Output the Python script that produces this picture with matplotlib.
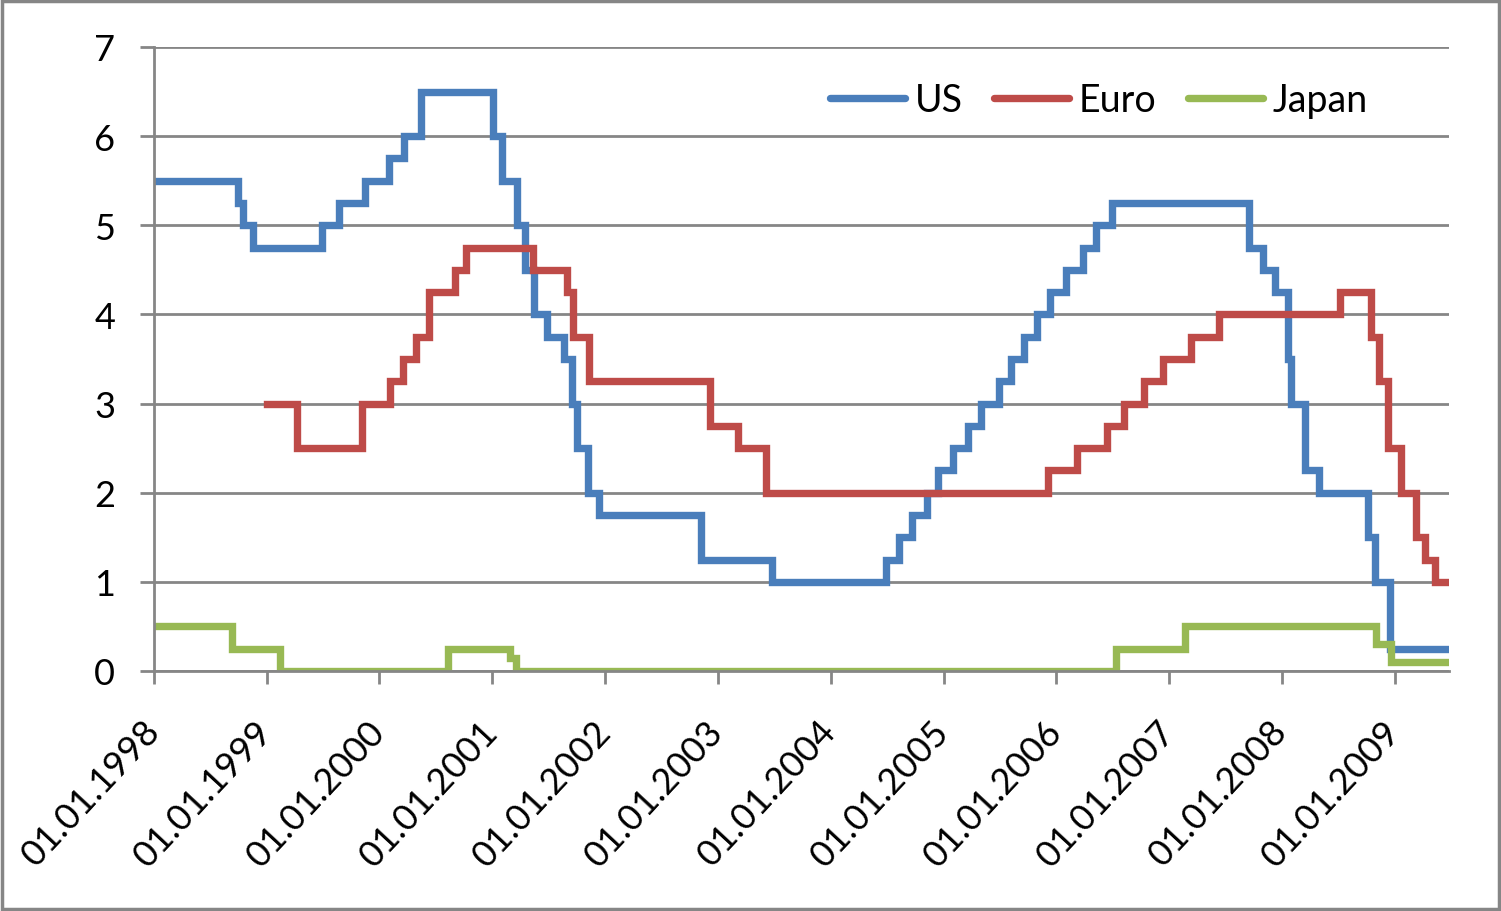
import matplotlib
matplotlib.use("Agg")
import matplotlib.pyplot as plt
from matplotlib.patches import Rectangle
import matplotlib.transforms as mtransforms
import pandas as pd

plt.rcParams['font.family'] = ['Lato', 'DejaVu Sans']

end_date = "2009-06-26"

us_dates = ["1998-01-01", "1998-09-29", "1998-10-15", "1998-11-17", "1999-06-30",
            "1999-08-24", "1999-11-16", "2000-02-02", "2000-03-21", "2000-05-16",
            "2001-01-03", "2001-01-31", "2001-03-20", "2001-04-18", "2001-05-15",
            "2001-06-27", "2001-08-21", "2001-09-17", "2001-10-02", "2001-11-06",
            "2001-12-11", "2002-11-06", "2003-06-25", "2004-06-30", "2004-08-10",
            "2004-09-21", "2004-11-10", "2004-12-14", "2005-02-02", "2005-03-22",
            "2005-05-03", "2005-06-30", "2005-08-09", "2005-09-20", "2005-11-01",
            "2005-12-13", "2006-01-31", "2006-03-28", "2006-05-10", "2006-06-29",
            "2007-09-18", "2007-10-31", "2007-12-11", "2008-01-22", "2008-01-30",
            "2008-03-18", "2008-04-30", "2008-10-08", "2008-10-29", "2008-12-16"]
us_rates = [5.50, 5.25, 5.00, 4.75, 5.00,
            5.25, 5.50, 5.75, 6.00, 6.50,
            6.00, 5.50, 5.00, 4.50, 4.00,
            3.75, 3.50, 3.00, 2.50, 2.00,
            1.75, 1.25, 1.00, 1.25, 1.50,
            1.75, 2.00, 2.25, 2.50, 2.75,
            3.00, 3.25, 3.50, 3.75, 4.00,
            4.25, 4.50, 4.75, 5.00, 5.25,
            4.75, 4.50, 4.25, 3.50, 3.00,
            2.25, 2.00, 1.50, 1.00, 0.25]

euro_dates = ["1999-01-01", "1999-04-09", "1999-11-05", "2000-02-04", "2000-03-17",
              "2000-04-28", "2000-06-09", "2000-09-01", "2000-10-06", "2001-05-11",
              "2001-08-31", "2001-09-18", "2001-11-09", "2002-12-06", "2003-03-07",
              "2003-06-06", "2005-12-06", "2006-03-08", "2006-06-15", "2006-08-09",
              "2006-10-11", "2006-12-13", "2007-03-14", "2007-06-13", "2008-07-09",
              "2008-10-15", "2008-11-12", "2008-12-10", "2009-01-21", "2009-03-11",
              "2009-04-08", "2009-05-13"]
euro_rates = [3.00, 2.50, 3.00, 3.25, 3.50,
              3.75, 4.25, 4.50, 4.75, 4.50,
              4.25, 3.75, 3.25, 2.75, 2.50,
              2.00, 2.25, 2.50, 2.75, 3.00,
              3.25, 3.50, 3.75, 4.00, 4.25,
              3.75, 3.25, 2.50, 2.00, 1.50,
              1.25, 1.00]

japan_dates = ["1998-01-01", "1998-09-09", "1999-02-12", "2000-08-11", "2001-02-28",
               "2001-03-19", "2006-07-14", "2007-02-21", "2008-10-31", "2008-12-19"]
japan_rates = [0.50, 0.25, 0.00, 0.25, 0.15,
               0.00, 0.25, 0.50, 0.30, 0.10]

series_names = ["US", "Euro", "Japan"]
series_colors = ["#4A7EBB", "#BE4B48", "#98B954"]

y_ticks = [0, 1, 2, 3, 4, 5, 6, 7]
x_tick_years = list(range(1998, 2010))

W, H = 1501, 912
fig = plt.figure(figsize=(W / 100, H / 100), dpi=100)
ax = fig.add_axes([154 / W, 1 - 672 / H, (1449 - 154) / W, (672 - 48) / H])

grey = "#868686"

def extend(dates, rates):
    d = list(pd.to_datetime(dates)) + [pd.Timestamp(end_date)]
    r = list(rates) + [rates[-1]]
    return d, r

for dates, rates, name, col in zip([us_dates, euro_dates, japan_dates],
                                   [us_rates, euro_rates, japan_rates],
                                   series_names, series_colors):
    d, r = extend(dates, rates)
    ax.step(d, r, where='post', color=col, lw=5.3, label=name, zorder=3,
            solid_joinstyle='miter')

ax.set_xlim(pd.Timestamp("1998-01-01"), pd.Timestamp(end_date))
ax.set_ylim(0, 7)
ax.set_yticks(y_ticks)
ax.set_yticklabels([str(v) for v in y_ticks])
xt = [pd.Timestamp(f"{y}-01-01") for y in x_tick_years]
ax.set_xticks(xt)
ax.set_xticklabels([f"01.01.{y}" for y in x_tick_years], rotation=47,
                   ha='right', va='top')

ax.grid(axis='y', color=grey, lw=2, zorder=1)
ax.set_axisbelow(True)
for s in ['top', 'right']:
    ax.spines[s].set_visible(False)
for s in ['left', 'bottom']:
    ax.spines[s].set_color(grey)
    ax.spines[s].set_linewidth(2)
    ax.spines[s].set_zorder(4)
ax.tick_params(axis='y', length=10, width=2, color=grey, labelsize=26, pad=18)
ax.tick_params(axis='x', length=9, width=2, color=grey, labelsize=26, pad=6)

offset = mtransforms.ScaledTranslation(12 / 100, -22 / 100, fig.dpi_scale_trans)
for lab in ax.get_xticklabels():
    lab.set_transform(lab.get_transform() + offset)

leg = fig.legend(loc='center', bbox_to_anchor=(1099 / W, 1 - 101 / H), ncol=3,
                 frameon=False, fontsize=27, handlelength=2.0, handletextpad=0.25,
                 columnspacing=0.85)
for line in leg.get_lines():
    line.set_solid_capstyle('round')

fig.patches.append(Rectangle((0.0015, 0.0025), 0.997, 0.995, transform=fig.transFigure,
                             fill=False, edgecolor=grey, lw=2.5))

fig.savefig("out.png", dpi=100)
